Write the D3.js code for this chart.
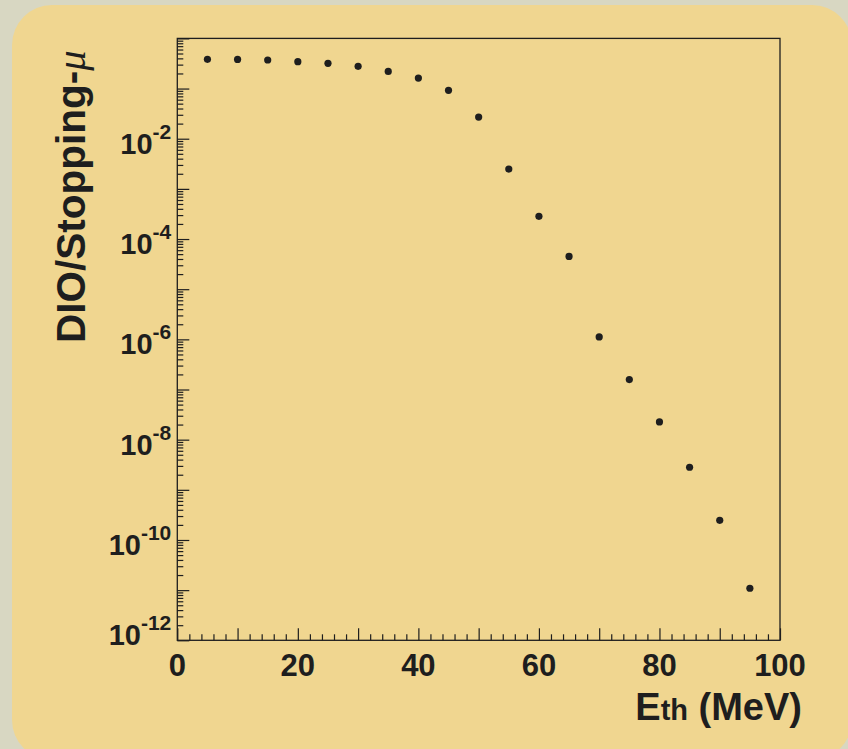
<!DOCTYPE html>
<html>
<head>
<meta charset="utf-8">
<script src="https://cdn.jsdelivr.net/npm/d3@7"></script>
<style>
    body { margin: 0; background: #d8d7c2; }
    svg { display: block; }
</style>
</head>
<body>
<div id="the_chart"></div>
<script>
// threshold energy (MeV) and DIO / stopping-muon fraction
var energies = [5, 10, 15, 20, 25, 30, 35, 40, 45, 50, 55, 60, 65, 70, 75, 80, 85, 90, 95];
var ratio = [0.383, 0.381, 0.371, 0.343, 0.318, 0.277, 0.220, 0.162, 0.0922, 0.0270,
    2.48e-3, 2.83e-4, 4.50e-5, 1.12e-6, 1.58e-7, 2.26e-8, 2.82e-9, 2.47e-10, 1.09e-11];
var xTickLabels = [0, 20, 40, 60, 80, 100];
var yTickExponents = [-2, -4, -6, -8, -10, -12];

var w = 848, h = 749;
// frame edges (note: "top" is a reserved window property, so use other names)
var frameL = 177.3, frameR = 780, frameT = 38.4, frameB = 640.3;
var ink = "#1e1e1e";
var font = "'Liberation Sans', Arial, Helvetica, sans-serif";

var svg = d3.select("#the_chart")
    .append("svg")
    .attr("width", w)
    .attr("height", h);

// background panel
svg.append("rect")
    .attr("width", w).attr("height", h)
    .attr("fill", "#d8d7c2");
svg.append("rect")
    .attr("x", 12).attr("y", 5)
    .attr("width", 840).attr("height", 755)
    .attr("rx", 40).attr("ry", 40)
    .attr("fill", "#f0d690");

var xscale = d3.scaleLinear()
    .domain([0, 100])
    .range([frameL, frameR]);
var yscale = d3.scaleLog()
    .domain([1e-12, 1])
    .range([frameB, frameT]);

// frame
svg.append("rect")
    .attr("x", frameL).attr("y", frameT)
    .attr("width", frameR - frameL).attr("height", frameB - frameT)
    .attr("fill", "none")
    .attr("stroke", ink)
    .attr("stroke-width", 1.3);

// x axis ticks (pointing inside)
var xMinor = d3.range(0, 101, 2).filter(d => d % 10 != 0);
var xMajor = d3.range(0, 101, 10);
function drawX(vals, len) {
    var g = svg.append("g")
        .attr("transform", "translate(0," + frameB + ")")
        .call(d3.axisBottom(xscale).tickValues(vals).tickSize(-len).tickFormat(""));
    g.select(".domain").remove();
    g.selectAll("line").attr("stroke", ink).attr("stroke-width", 1.2);
}
drawX(xMinor, 6);
drawX(xMajor, 12);

// y axis ticks (log, pointing inside)
var yMajor = [], yMinor = [];
for (var k = -12; k <= 0; k++) {
    yMajor.push(Math.pow(10, k));
    if (k < 0)
        for (var m = 2; m <= 9; m++) yMinor.push(m * Math.pow(10, k));
}
function drawY(vals, len) {
    var g = svg.append("g")
        .attr("transform", "translate(" + frameL + ",0)")
        .call(d3.axisLeft(yscale).tickValues(vals).tickSize(-len).tickFormat(""));
    g.select(".domain").remove();
    g.selectAll("line").attr("stroke", ink).attr("stroke-width", 1.2);
}
drawY(yMinor, 6);
drawY(yMajor, 12);

// x tick labels
svg.selectAll(".xlab")
    .data(xTickLabels)
    .enter().append("text")
    .attr("class", "xlab")
    .attr("x", d => xscale(d))
    .attr("y", frameB + 36)
    .attr("text-anchor", "middle")
    .attr("font-family", font)
    .attr("font-weight", "bold")
    .attr("font-size", 31)
    .attr("fill", ink)
    .text(d => d);

// y tick labels 10^n
var ylab = svg.selectAll(".ylab")
    .data(yTickExponents)
    .enter().append("text")
    .attr("class", "ylab")
    .attr("x", frameL - 6)
    .attr("y", d => yscale(Math.pow(10, d)) + (d == -12 ? 5 : 15))
    .attr("text-anchor", "end")
    .attr("font-family", font)
    .attr("font-weight", "bold")
    .attr("fill", ink);
ylab.append("tspan").attr("font-size", 29).text("10");
ylab.append("tspan").attr("font-size", 21).attr("dy", -15).text(d => d);

// axis titles
var xt = svg.append("text")
    .attr("x", 802).attr("y", 720)
    .attr("text-anchor", "end")
    .attr("font-family", font)
    .attr("font-weight", "bold")
    .attr("fill", ink);
xt.append("tspan").attr("font-size", 38).text("E");
xt.append("tspan").attr("font-size", 29).text("th");
xt.append("tspan").attr("font-size", 38).text(" (MeV)");

var yt = svg.append("text")
    .attr("transform", "translate(85,343) rotate(-90)")
    .attr("text-anchor", "start")
    .attr("font-family", font)
    .attr("font-weight", "bold")
    .attr("font-size", 40.5)
    .attr("fill", ink);
yt.append("tspan").text("DIO/Stopping-");
yt.append("tspan")
    .attr("font-family", "'Liberation Serif', 'DejaVu Serif', serif")
    .attr("font-style", "italic")
    .attr("font-weight", "normal")
    .text("\u03bc");

// data points
svg.selectAll("circle")
    .data(energies)
    .enter().append("circle")
    .attr("cx", d => xscale(d))
    .attr("cy", (d, i) => yscale(ratio[i]))
    .attr("r", 3.6)
    .attr("fill", ink);
</script>
</body>
</html>
